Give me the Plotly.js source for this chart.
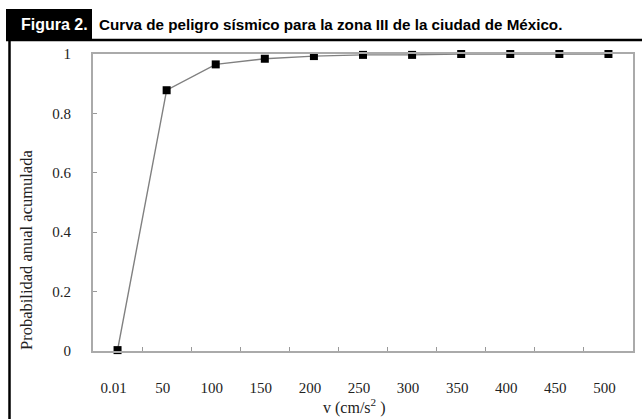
<!DOCTYPE html>
<html>
<head>
<meta charset="utf-8">
<script src="https://cdn.plot.ly/plotly-3.0.1.min.js"></script>
<style>html,body{margin:0;padding:0;background:#fff;}#chart{width:642px;height:419px;}</style>
</head>
<body>
<div id="chart"></div>
<script>
// Data
var categories = ['0.01', '50', '100', '150', '200', '250', '300', '350', '400', '450', '500'];
var probability = [0.003, 0.878, 0.965, 0.984, 0.993, 0.997, 0.997, 1.0, 1.0, 1.0, 1.0];
var yTickValues = [0, 0.2, 0.4, 0.6, 0.8, 1];
var yTickLabels = ['0', '0.2', '0.4', '0.6', '0.8', '1'];

var W = 642, H = 419;
var L = 93, R = 633, T = 54, B = 351;
function px(x) { return (x - L) / (R - L); }
function py(y) { return (B - y) / (B - T); }

var serif = 'Liberation Serif, Times New Roman, serif';
var sans = 'Liberation Sans, Arial, sans-serif';
var txt = '#222';

var trace = {
  type: 'scatter',
  mode: 'lines+markers',
  x: categories,
  y: probability,
  line: {color: '#808080', width: 1.4},
  marker: {symbol: 'square', size: 8, color: '#000'},
  cliponaxis: false,
  hoverinfo: 'skip'
};

var layout = {
  width: W, height: H,
  margin: {l: L, r: W - R, t: T, b: H - B},
  paper_bgcolor: '#fff', plot_bgcolor: '#fff',
  showlegend: false,
  font: {family: serif, size: 15, color: txt},
  xaxis: {
    type: 'category',
    categoryorder: 'array', categoryarray: categories,
    range: [-0.5, categories.length - 0.5],
    tickson: 'boundaries',
    ticks: 'inside', ticklen: 4, tickwidth: 1, tickcolor: '#999',
    showline: true, mirror: true, linecolor: '#aaa', linewidth: 2,
    showgrid: false, zeroline: false,
    ticklabelstandoff: 22,
    ticklabelshift: -4,
    tickfont: {family: serif, size: 15, color: txt},
    fixedrange: true
  },
  yaxis: {
    range: [0, 1],
    tickvals: yTickValues, ticktext: yTickLabels,
    ticks: 'inside', ticklen: 4, tickwidth: 1, tickcolor: '#999',
    showline: true, mirror: true, linecolor: '#aaa', linewidth: 2,
    showgrid: false, zeroline: false,
    ticklabelstandoff: 17,
    tickfont: {family: serif, size: 15, color: txt},
    fixedrange: true
  },
  shapes: [
    {type: 'rect', xref: 'paper', yref: 'paper', x0: px(6), x1: px(92), y0: py(40), y1: py(9),
     fillcolor: '#000', line: {width: 0}},
    {type: 'line', xref: 'paper', yref: 'paper', x0: px(6), x1: px(642), y0: py(40), y1: py(40),
     line: {color: '#000', width: 2.5}},
    {type: 'line', xref: 'paper', yref: 'paper', x0: px(9.5), x1: px(9.5), y0: py(40), y1: py(419),
     line: {color: '#000', width: 2.5}}
  ],
  annotations: [
    {xref: 'paper', yref: 'paper', x: px(19), y: py(25), xanchor: 'left', yanchor: 'middle',
     text: '<b>Figura 2.</b>', showarrow: false, font: {family: sans, size: 16, color: '#fff'}},
    {xref: 'paper', yref: 'paper', x: px(97), y: py(25), xanchor: 'left', yanchor: 'middle',
     text: '<b>Curva de peligro sísmico para la zona III de la ciudad de México.</b>', showarrow: false,
     font: {family: sans, size: 15.2, color: '#000'}},
    {xref: 'paper', yref: 'paper', x: px(26), y: py(250), xanchor: 'center', yanchor: 'middle',
     textangle: -90, text: 'Probabilidad anual acumulada', showarrow: false,
     font: {family: serif, size: 16.5, color: txt}},
    {xref: 'paper', yref: 'paper', x: px(354), y: py(406), xanchor: 'center', yanchor: 'middle',
     text: 'v (cm/s<sup>2</sup> )', showarrow: false,
     font: {family: serif, size: 16, color: txt}}
  ]
};

Plotly.newPlot('chart', [trace], layout, {displayModeBar: false, staticPlot: true});
</script>
</body>
</html>
